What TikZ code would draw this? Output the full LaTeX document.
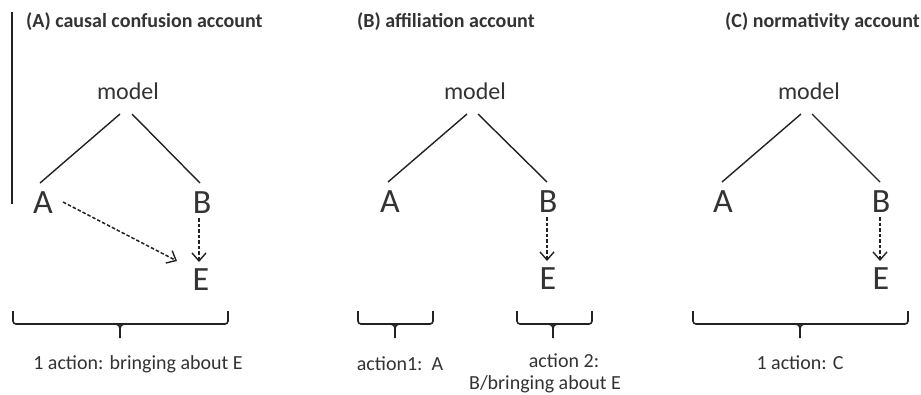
\documentclass[tikz,border=0pt]{standalone}
\usepackage{fontspec}
\setmainfont{Carlito}
\usetikzlibrary{arrows.meta,calc}
\definecolor{ink}{HTML}{222222}
\definecolor{txt}{HTML}{333333}
\begin{document}
\begin{tikzpicture}[x=1pt,y=-1pt,
  modelnode/.style={font=\fontsize{24}{28}\selectfont, text=txt, inner sep=0pt},
  letter/.style={font=\fontsize{34}{38}\selectfont, text=txt, inner sep=0pt},
  titlenode/.style={font=\fontsize{20}{24}\selectfont\bfseries, text=txt, inner sep=0pt, anchor=west},
  lbl/.style={font=\fontsize{20}{24}\selectfont, text=txt, inner sep=0pt},
  edge/.style={draw=ink, line width=1.4pt},
  dasharrow/.style={draw=ink, line width=1.5pt, dash pattern=on 3.5pt off 2pt,
    -{Straight Barb[length=8pt,width=14pt,line width=1.4pt]}},
  bracepath/.style={draw=ink, line width=1.6pt, rounded corners=3pt},
  stem/.style={draw=ink, line width=1.6pt}
]
\useasboundingbox (0,0) rectangle (921,394);
\fill[white] (0,0) rectangle (921,394);

% left rule
\coordinate (ruleTop) at (12,12);
\coordinate (ruleBot) at (12,204);
\draw[ink, line width=1.2pt] (ruleTop) -- (ruleBot);

% titles
\node[titlenode] (tA) at (26,22) {(A) causal confusion account};
\node[titlenode] (tB) at (357,22) {(B) affiliation account};
\node[titlenode] (tC) at (725,22) {(C) normativity account};

% ---------- panel A ----------
\node[modelnode] (mA) at (128,91) {model};
\node[letter] (aA) at (43,203) {A};
\node[letter] (bA) at (202,203) {B};
\node[letter] (eA) at (201,280) {E};
\draw[edge] ($(mA.center)+(-8,23)$) -- ($(aA.center)+(-3,-20)$);
\draw[edge] ($(mA.center)+(4,23)$) -- ($(bA.center)+(-2,-20)$);
\draw[dasharrow] ($(aA.center)+(20,-1)$) -- ($(eA.center)+(-24,-19)$);
\draw[dasharrow] ($(bA.center)+(-3,15)$) -- ($(eA.center)+(-2,-18)$);

% ---------- panel B ----------
\node[modelnode] (mB) at (475,91) {model};
\node[letter] (aB) at (390,202) {A};
\node[letter] (bB) at (548,202) {B};
\node[letter] (eB) at (548,279) {E};
\draw[edge] ($(mB.center)+(-8,23)$) -- ($(aB.center)+(-2,-20)$);
\draw[edge] ($(mB.center)+(3,23)$) -- ($(bB.center)+(-1,-20)$);
\draw[dasharrow] ($(bB.center)+(-1,15)$) -- ($(eB.center)+(-1,-18)$);

% ---------- panel C ----------
\node[modelnode] (mC) at (809,91) {model};
\node[letter] (aC) at (723,202) {A};
\node[letter] (bC) at (881,202) {B};
\node[letter] (eC) at (881,279) {E};
\draw[edge] ($(mC.center)+(-8,23)$) -- ($(aC.center)+(-1,-20)$);
\draw[edge] ($(mC.center)+(3,23)$) -- ($(bC.center)+(-1,-20)$);
\draw[dasharrow] ($(bC.center)+(-1,15)$) -- ($(eC.center)+(-1,-18)$);

% ---------- braces ----------
% brace A
\coordinate (brAl) at (13,311);
\coordinate (brAr) at (228,311);
\coordinate (brAt) at (120,338);
\draw[bracepath] (brAl) -- (brAl |- 0,324) -- (brAr |- 0,324) -- (brAr);
\draw[stem] ($(brAt |- 0,324)+(-6,0)$) .. controls ($(brAt |- 0,324)+(-1,0)$) and ($(brAt |- 0,324)+(0,2)$) .. ($(brAt |- 0,324)+(0,6)$) -- (brAt);
\draw[stem] ($(brAt |- 0,324)+(6,0)$) .. controls ($(brAt |- 0,324)+(1,0)$) and ($(brAt |- 0,324)+(0,2)$) .. ($(brAt |- 0,324)+(0,6)$);

% brace B left
\coordinate (brBl) at (358,311);
\coordinate (brBr) at (433,311);
\coordinate (brBt) at (395,338);
\draw[bracepath] (brBl) -- (brBl |- 0,324) -- (brBr |- 0,324) -- (brBr);
\draw[stem] ($(brBt |- 0,324)+(-6,0)$) .. controls ($(brBt |- 0,324)+(-1,0)$) and ($(brBt |- 0,324)+(0,2)$) .. ($(brBt |- 0,324)+(0,6)$) -- (brBt);
\draw[stem] ($(brBt |- 0,324)+(6,0)$) .. controls ($(brBt |- 0,324)+(1,0)$) and ($(brBt |- 0,324)+(0,2)$) .. ($(brBt |- 0,324)+(0,6)$);

% brace B right
\coordinate (brCl) at (517,311);
\coordinate (brCr) at (592,311);
\coordinate (brCt) at (553,338);
\draw[bracepath] (brCl) -- (brCl |- 0,324) -- (brCr |- 0,324) -- (brCr);
\draw[stem] ($(brCt |- 0,324)+(-6,0)$) .. controls ($(brCt |- 0,324)+(-1,0)$) and ($(brCt |- 0,324)+(0,2)$) .. ($(brCt |- 0,324)+(0,6)$) -- (brCt);
\draw[stem] ($(brCt |- 0,324)+(6,0)$) .. controls ($(brCt |- 0,324)+(1,0)$) and ($(brCt |- 0,324)+(0,2)$) .. ($(brCt |- 0,324)+(0,6)$);

% brace C
\coordinate (brDl) at (693,311);
\coordinate (brDr) at (908,311);
\coordinate (brDt) at (800,338);
\draw[bracepath] (brDl) -- (brDl |- 0,324) -- (brDr |- 0,324) -- (brDr);
\draw[stem] ($(brDt |- 0,324)+(-6,0)$) .. controls ($(brDt |- 0,324)+(-1,0)$) and ($(brDt |- 0,324)+(0,2)$) .. ($(brDt |- 0,324)+(0,6)$) -- (brDt);
\draw[stem] ($(brDt |- 0,324)+(6,0)$) .. controls ($(brDt |- 0,324)+(1,0)$) and ($(brDt |- 0,324)+(0,2)$) .. ($(brDt |- 0,324)+(0,6)$);

% ---------- labels ----------
\node[lbl] (lA) at (138,364) {1 action: bringing about E};
\node[lbl] (lB1) at (400,364) {action1:\ \ A};
\node[lbl] (lB2a) at (564,361) {action 2:};
\node[lbl] (lB2b) at (545,384) {B/bringing about E};
\node[lbl] (lC) at (800,363) {1 action: C};
\end{tikzpicture}
\end{document}
